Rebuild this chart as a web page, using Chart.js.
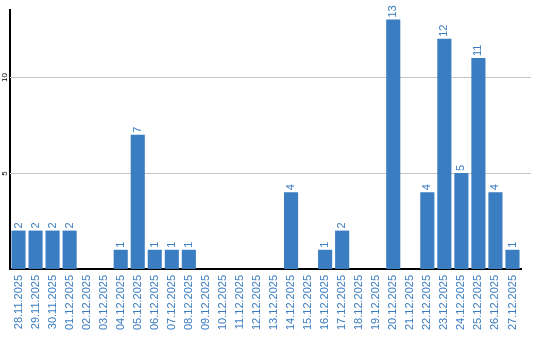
<!DOCTYPE html>
<html>
<head>
<meta charset="utf-8">
<script src="https://cdn.jsdelivr.net/npm/chart.js@4/dist/chart.umd.min.js"></script>
<style>
  html, body { margin: 0; padding: 0; background: #fff; }
  #wrap { width: 540px; height: 340px; }
</style>
</head>
<body>
<div id="wrap"><canvas id="bars"></canvas></div>
<script>
var days = ['28.11.2025', '29.11.2025', '30.11.2025', '01.12.2025', '02.12.2025',
    '03.12.2025', '04.12.2025', '05.12.2025', '06.12.2025', '07.12.2025',
    '08.12.2025', '09.12.2025', '10.12.2025', '11.12.2025', '12.12.2025',
    '13.12.2025', '14.12.2025', '15.12.2025', '16.12.2025', '17.12.2025',
    '18.12.2025', '19.12.2025', '20.12.2025', '21.12.2025', '22.12.2025',
    '23.12.2025', '24.12.2025', '25.12.2025', '26.12.2025', '27.12.2025'];
var counts = [2, 2, 2, 2, 0, 0, 1, 7, 1, 1,
    1, 0, 0, 0, 0, 0, 4, 0, 1, 2,
    0, 0, 13, 0, 4, 12, 5, 11, 4, 1];
var yTicks = [5, 10];

var blue = '#3b7dc1';
var sans = '"Liberation Sans", Arial, sans-serif';

// grid lines + rotated y labels, drawn off the y scale
var gridPlugin = {
    id: 'grid',
    beforeDatasetsDraw: function (chart) {
        var c = chart.ctx, area = chart.chartArea, y = chart.scales.y;
        c.save();
        c.strokeStyle = '#c4c4c4';
        c.lineWidth = 1;
        yTicks.forEach(function (t) {
            var py = Math.round(y.getPixelForValue(t)) + 0.5;
            c.beginPath();
            c.moveTo(area.left, py);
            c.lineTo(area.right + 10, py);
            c.stroke();
            c.save();
            c.translate(5, py);
            c.rotate(-Math.PI / 2);
            c.fillStyle = '#000';
            c.font = '8px ' + sans;
            c.textAlign = 'center';
            c.textBaseline = 'middle';
            c.fillText(String(t), 0, 0);
            c.restore();
        });
        c.restore();
    }
};

// value labels above bars
var valuePlugin = {
    id: 'values',
    afterDatasetsDraw: function (chart) {
        var c = chart.ctx;
        var meta = chart.getDatasetMeta(0);
        c.save();
        c.fillStyle = blue;
        c.font = '11px ' + sans;
        c.textAlign = 'left';
        c.textBaseline = 'middle';
        meta.data.forEach(function (bar, i) {
            if (!counts[i]) return;
            c.save();
            c.translate(bar.x, bar.y - 2);
            c.rotate(-Math.PI / 2);
            c.fillText(String(counts[i]), 0, 0);
            c.restore();
        });
        c.restore();
    }
};

new Chart(document.getElementById('bars').getContext('2d'), {
    type: 'bar',
    data: {
        labels: days,
        datasets: [{
            data: counts,
            backgroundColor: blue,
            borderWidth: 0,
            barPercentage: 0.9,
            categoryPercentage: 0.92
        }]
    },
    options: {
        responsive: true,
        maintainAspectRatio: false,
        animation: false,
        layout: { padding: { left: 10, right: 19, top: 10, bottom: 4 } },
        plugins: {
            legend: { display: false },
            tooltip: { enabled: false }
        },
        scales: {
            x: {
                grid: { display: false, drawTicks: false },
                border: { display: true, color: '#000', width: 2 },
                ticks: {
                    color: blue,
                    font: { family: sans, size: 11 },
                    minRotation: 90,
                    maxRotation: 90,
                    autoSkip: false,
                    padding: 6
                }
            },
            y: {
                min: 0,
                max: 13.5,
                grid: { display: false, drawTicks: false },
                border: { display: true, color: '#000', width: 2 },
                ticks: { display: false }
            }
        }
    },
    plugins: [gridPlugin, valuePlugin]
});
</script>
</body>
</html>
